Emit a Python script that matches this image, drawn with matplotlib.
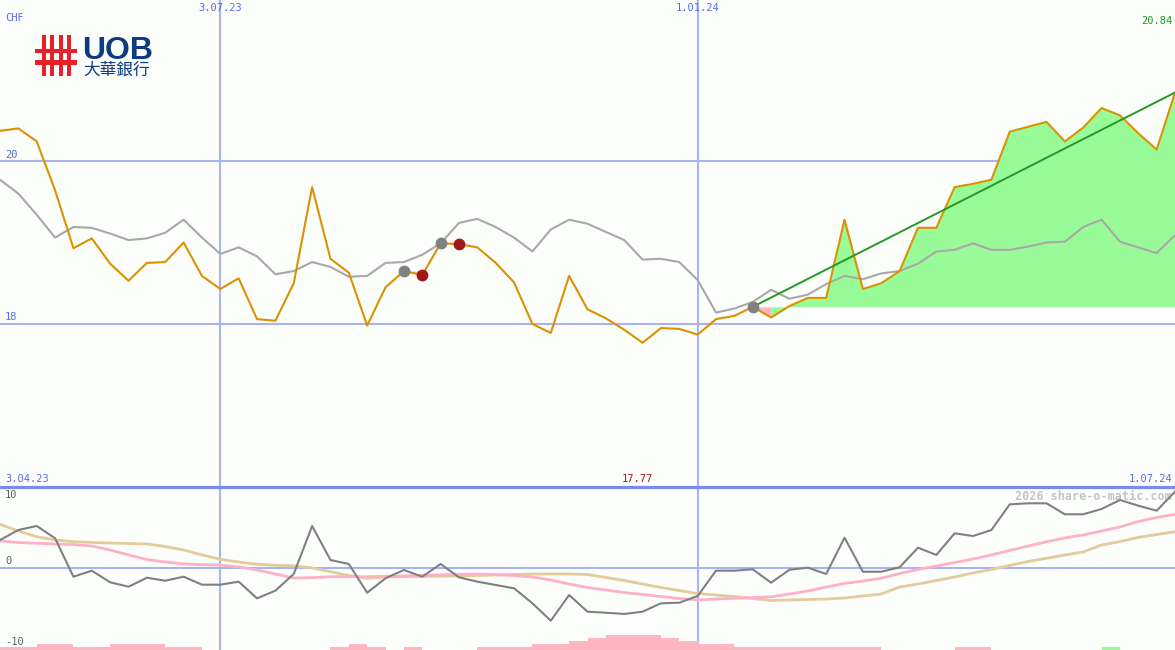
import matplotlib
matplotlib.use("Agg")
import matplotlib.pyplot as plt
from matplotlib.patches import Rectangle
from matplotlib.transforms import blended_transform_factory
import numpy as np

# ---------------- data ----------------
close = [20.37, 20.40, 20.24, 19.64, 18.93, 19.05, 18.74, 18.53, 18.75, 18.76,
         19.00, 18.59, 18.43, 18.56, 18.06, 18.04, 18.50, 19.68, 18.80, 18.63,
         17.98, 18.45, 18.65, 18.60, 18.99, 18.98, 18.94, 18.75, 18.51, 18.00,
         17.89, 18.59, 18.18, 18.07, 17.93, 17.77, 17.95, 17.94, 17.87, 18.06,
         18.10, 18.21, 18.08, 18.22, 18.32, 18.32, 19.28, 18.43, 18.50, 18.65,
         19.18, 19.18, 19.68, 19.72, 19.77, 20.36, 20.42, 20.48, 20.24, 20.41,
         20.65, 20.56, 20.34, 20.14, 20.84]

avg = [19.77, 19.60, 19.34, 19.06, 19.19, 19.18, 19.11, 19.03, 19.05, 19.12,
       19.28, 19.06, 18.86, 18.94, 18.83, 18.61, 18.65, 18.76, 18.70, 18.58,
       18.59, 18.75, 18.76, 18.85, 18.99, 19.24, 19.29, 19.19, 19.06, 18.89,
       19.16, 19.28, 19.23, 19.13, 19.03, 18.79, 18.80, 18.76, 18.54, 18.14,
       18.19, 18.27, 18.42, 18.31, 18.36, 18.49, 18.59, 18.55, 18.62, 18.65,
       18.74, 18.89, 18.91, 18.99, 18.91, 18.91, 18.95, 19.00, 19.01, 19.19,
       19.28, 19.01, 18.94, 18.87, 19.09]

momentum = [3.54, 4.81, 5.32, 3.76, -1.10, -0.34, -1.81, -2.37, -1.23, -1.61,
            -1.10, -2.11, -2.11, -1.73, -3.84, -2.87, -0.76, 5.32, 1.01, 0.51,
            -3.13, -1.30, -0.25, -1.10, 0.51, -1.18, -1.73, -2.15, -2.57, -4.47,
            -6.67, -3.42, -5.53, -5.66, -5.82, -5.53, -4.47, -4.39, -3.54, -0.34,
            -0.34, -0.16, -1.86, -0.22, 0.04, -0.76, 3.84, -0.47, -0.47, 0.09,
            2.57, 1.65, 4.39, 4.05, 4.81, 8.06, 8.19, 8.19, 6.80, 6.80,
            7.47, 8.61, 7.89, 7.25, 9.66]

signal_fast = [3.42, 3.23, 3.13, 3.04, 2.97, 2.78, 2.28, 1.65, 1.08, 0.76,
               0.51, 0.42, 0.38, 0.13, -0.25, -0.76, -1.27, -1.23, -1.10, -1.10,
               -1.10, -1.05, -0.99, -0.92, -0.86, -0.80, -0.76, -0.84, -0.95, -1.14,
               -1.52, -2.03, -2.47, -2.78, -3.10, -3.35, -3.61, -3.86, -4.05, -3.92,
               -3.84, -3.75, -3.65, -3.29, -2.91, -2.41, -1.96, -1.65, -1.30, -0.70,
               -0.19, 0.25, 0.70, 1.14, 1.65, 2.22, 2.78, 3.33, 3.80, 4.18,
               4.68, 5.19, 5.89, 6.39, 6.80]

signal_slow = [5.53, 4.68, 3.96, 3.54, 3.33, 3.23, 3.16, 3.10, 3.04, 2.72,
               2.28, 1.65, 1.10, 0.76, 0.47, 0.34, 0.29, 0.00, -0.47, -0.95,
               -1.30, -1.14, -1.09, -1.06, -1.04, -1.01, -0.95, -0.89, -0.82, -0.76,
               -0.76, -0.76, -0.82, -1.20, -1.58, -2.03, -2.47, -2.85, -3.23, -3.42,
               -3.61, -3.86, -4.11, -4.05, -3.99, -3.92, -3.80, -3.54, -3.29, -2.41,
               -2.03, -1.58, -1.14, -0.63, -0.19, 0.32, 0.82, 1.23, 1.65, 2.03,
               2.91, 3.35, 3.86, 4.24, 4.59]

# histogram levels (positive = pink, negative = green)
bar_levels = [1, 1, 2, 2, 1, 1, 2, 2, 2, 1,
              1, 0, 0, 0, 0, 0, 0, 0, 1, 2,
              1, 0, 1, 0, 0, 0, 1, 1, 1, 2,
              2, 3, 4, 5, 5, 5, 4, 3, 2, 2,
              1, 1, 1, 1, 1, 1, 1, 1, 0, 0,
              0, 0, 1, 1, 0, 0, 0, 0, 0, 0,
              -1, 0, 0, 0, 0]

date_ticks = [12, 38]
date_labels = ["3.07.23", "1.01.24"]
start_label = "3.04.23"
end_label = "1.07.24"
price_levels = [20, 18]
osc_labels = [10, 0, -10]

buy_idx = [22, 24, 41]      # grey markers
sell_idx = [23, 25]         # red markers
pink_spans = [(22, 23), (24, 25), (41, 42)]
green_span = (42, 64)
trend_span = (41, 64)

# ---------------- style ----------------
BG = "#fcfefc"
GRID = "#a8b4f0"
DIV = "#7b8aec"
BLUE_TXT = "#5a6ae8"
ORANGE = "#da9200"
GREY = "#a8a8a8"
DGREY = "#808080"
PINK_L = "#ffb0c8"
TAN = "#e2cc9c"
FILL_G = "#98fb98"
FILL_P = "#ffb6c1"
TREND = "#229a22"
MONO = "DejaVu Sans Mono"

W, H = 1175, 650
fig = plt.figure(figsize=(W / 100, H / 100), dpi=100, facecolor=BG)
split = 487
ax = fig.add_axes([0, (H - split) / H, 1, split / H], facecolor=BG)
ax2 = fig.add_axes([0, 0, 1, (H - split) / H], facecolor=BG)

n = len(close)
x = np.arange(n)
ppu = 81.5  # pixels per price unit
ax.set_xlim(0, n - 1)
ax.set_ylim(20 - (split - 161) / ppu, 20 + 161 / ppu)
ax2.set_xlim(0, n - 1)
ax2.set_ylim(-(650 - 568) / 7.9, (568 - split) / 7.9)

for a in (ax, ax2):
    a.set_xticks([]); a.set_yticks([])
    for s in a.spines.values():
        s.set_visible(False)
ax2.spines["top"].set_visible(True)
ax2.spines["top"].set_color(DIV)
ax2.spines["top"].set_linewidth(2.3)

# grid
for t in date_ticks:
    ax.axvline(t, color=GRID, lw=1.5, zorder=1)
    ax2.axvline(t, color=GRID, lw=1.5, zorder=1)
for p in price_levels:
    ax.axhline(p, color=GRID, lw=1.5, zorder=1)
ax2.axhline(0, color=GRID, lw=1.5, zorder=1)

close_a = np.array(close)
# fills
for a0, a1 in pink_spans:
    xs = x[a0:a1 + 1]
    ax.fill_between(xs, close_a[a0], close_a[a0:a1 + 1], color=FILL_P, lw=0, zorder=2)
g0, g1 = green_span
base = close_a[trend_span[0]]
ax.fill_between(x[g0:g1 + 1], base, close_a[g0:g1 + 1], color=FILL_G, lw=0, zorder=2)

# lines
ax.plot(x, avg, color=GREY, lw=1.5, zorder=3)
ax.plot(x, close, color=ORANGE, lw=1.5, zorder=4)
t0, t1 = trend_span
ax.plot([t0, t1], [close[t0], close[t1]], color=TREND, lw=1.4, zorder=5)
ax.plot(buy_idx, [close[i] for i in buy_idx], "o", color=DGREY, ms=8.5, mew=0, zorder=6)
ax.plot(sell_idx, [close[i] for i in sell_idx], "o", color="#a01818", ms=8.5, mew=0, zorder=6)

# lower panel
lev = np.array(bar_levels)
ybot = ax2.get_ylim()[0]
unit = 0.39
cols = [FILL_P if v > 0 else FILL_G for v in lev]
mask = lev != 0
ax2.bar(x[mask], np.abs(lev[mask]) * unit, width=1.0, bottom=ybot, align="edge",
        color=[c for c, m in zip(cols, mask) if m], lw=0, zorder=2)
ax2.plot(x, signal_slow, color=TAN, lw=2.0, zorder=3)
ax2.plot(x, signal_fast, color=PINK_L, lw=2.0, zorder=3)
ax2.plot(x, momentum, color=DGREY, lw=1.5, zorder=4)

# ---------------- texts ----------------
fs = 7.5
bt = blended_transform_factory(ax.transData, ax.transAxes)
for t, lab in zip(date_ticks, date_labels):
    ax.text(t, 1 - 8 / split, lab, transform=bt, ha="center", va="center",
            fontsize=fs, family=MONO, color=BLUE_TXT)
ax.text(5 / W, 1 - 18 / split, "CHF", transform=ax.transAxes, ha="left", va="center",
        fontsize=fs, family=MONO, color=BLUE_TXT)
bty = blended_transform_factory(ax.transAxes, ax.transData)
for p in price_levels:
    ax.text(5 / W, p + 1.5 / ppu, str(p), transform=bty, ha="left", va="bottom",
            fontsize=fs, family=MONO, color=BLUE_TXT)
ax.text(1 - 3 / W, 1 - 21 / split, f"{close[-1]:.2f}", transform=ax.transAxes,
        ha="right", va="center", fontsize=fs, family=MONO, color=TREND)
ax.text(5 / W, 8 / split, start_label, transform=ax.transAxes, ha="left", va="center",
        fontsize=fs, family=MONO, color=BLUE_TXT)
ax.text(1 - 3 / W, 8 / split, end_label, transform=ax.transAxes, ha="right", va="center",
        fontsize=fs, family=MONO, color=BLUE_TXT)
imin = int(np.argmin(close))
ax.text(imin - 0.3, 8 / split, f"{min(close):.2f}", transform=bt, ha="center", va="center",
        fontsize=fs, family=MONO, color="#a01818")

h2 = H - split
for v, ypx in zip(osc_labels, [495, 561, 642]):
    ax2.text(5 / W, (H - ypx) / h2, str(v), transform=ax2.transAxes, ha="left",
             va="center", fontsize=fs, family=MONO, color="#606060")
ax2.text(1 - 3 / W, (H - 496) / h2, "2026 share-o-matic.com", transform=ax2.transAxes,
         ha="right", va="center", fontsize=8.5, family=MONO, weight="bold",
         color="#c4c4c4", zorder=1)

# ---------------- logo ----------------
RED = "#e8202a"
NAVY = "#0e3a80"
def frect(x0, y0, w, h, c):
    fig.add_artist(Rectangle((x0 / W, 1 - (y0 + h) / H), w / W, h / H,
                             transform=fig.transFigure, color=c, lw=0))
for bx in (42, 50.3, 58.6, 66.9):
    frect(bx, 35, 4, 41, RED)
for by in (48.5, 60):
    frect(35, by, 42, 4.5, RED)
fig.text(82 / W, 1 - 59 / H, "UOB", ha="left", va="baseline", fontsize=23,
         family="Liberation Sans", weight="bold", color=NAVY)
fig.text(83 / W, 1 - 79 / H, "大華銀行", ha="left", va="bottom", fontsize=12,
         family=["Noto Sans CJK TC", "DejaVu Sans"], color=NAVY)

fig.savefig("out.png", dpi=100, facecolor=BG)
